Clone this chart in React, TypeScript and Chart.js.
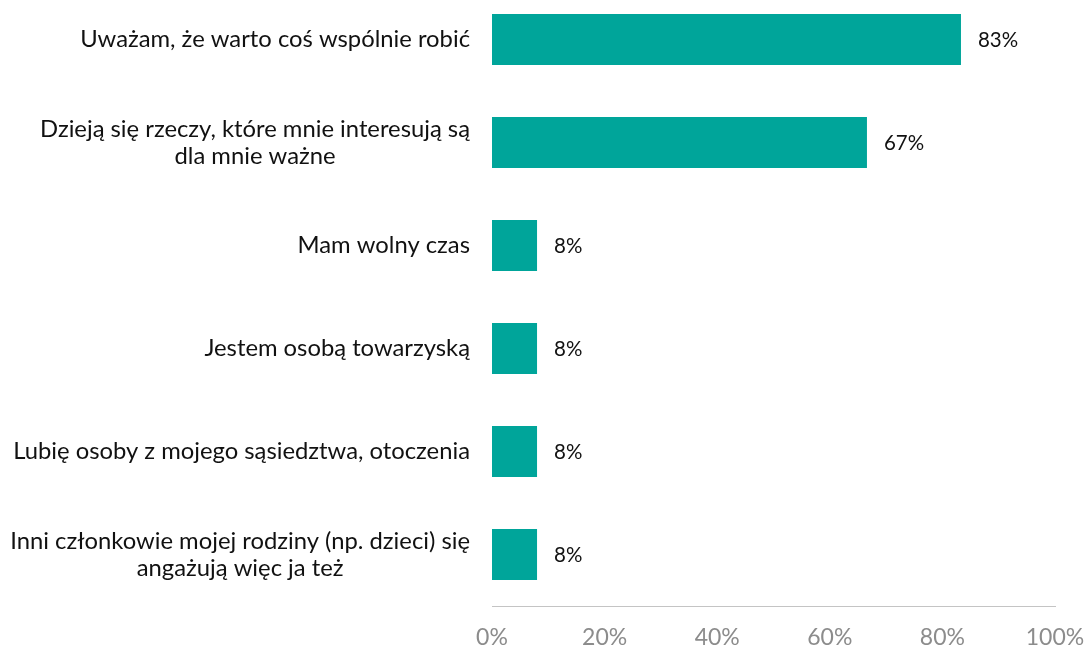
import React, { useEffect, useRef } from "react";
import { Chart, registerables } from "chart.js";

Chart.register(...registerables);

const categories: string[][] = [
  ["Uważam, że warto coś wspólnie robić"],
  ["Dzieją się rzeczy, które mnie interesują są", "dla mnie ważne"],
  ["Mam wolny czas"],
  ["Jestem osobą towarzyską"],
  ["Lubię osoby z mojego sąsiedztwa, otoczenia"],
  ["Inni członkowie mojej rodziny (np. dzieci) się", "angażują więc ja też"],
];
const values: number[] = [83.3, 66.6, 8, 8, 8, 8];
const valueLabels: string[] = ["83%", "67%", "8%", "8%", "8%", "8%"];
const xTicks: number[] = [0, 20, 40, 60, 80, 100];

const W = 1088;
const H = 660;

const labelsPlugin = {
  id: "customLabels",
  afterDatasetsDraw(chart: any) {
    const ctx = chart.ctx;
    const yScale = chart.scales.y;
    const meta = chart.getDatasetMeta(0);
    ctx.save();
    ctx.font = "23.8px Lato";
    ctx.fillStyle = "#111111";
    ctx.textBaseline = "middle";
    const right = 470;
    const lh = 27;
    categories.forEach((lines, i) => {
      const cy = yScale.getPixelForValue(i);
      if (lines.length === 1) {
        ctx.textAlign = "right";
        ctx.fillText(lines[0], right, cy);
      } else {
        const maxW = Math.max(...lines.map((l) => ctx.measureText(l).width));
        const cx = right - maxW / 2;
        ctx.textAlign = "center";
        lines.forEach((l, j) => {
          const y = cy + (j - (lines.length - 1) / 2) * lh;
          ctx.fillText(l, cx, y);
        });
      }
    });
    ctx.font = "20.5px Lato";
    ctx.textAlign = "left";
    meta.data.forEach((bar: any, i: number) => {
      ctx.fillText(valueLabels[i], bar.x + 17, bar.y + 1);
    });
    ctx.restore();
  },
};

export default function App() {
  const ref = useRef<HTMLCanvasElement | null>(null);
  useEffect(() => {
    if (!ref.current) return;
    const chart = new Chart(ref.current, {
      type: "bar",
      data: {
        labels: categories.map((c) => c.join(" ")),
        datasets: [
          {
            data: values,
            backgroundColor: "#00A59A",
            borderWidth: 0,
            categoryPercentage: 1,
            barPercentage: 0.495,
          },
        ],
      },
      options: {
        indexAxis: "y",
        responsive: false,
        animation: false,
        layout: { padding: { top: 0, left: 0, bottom: 0, right: 33 } },
        plugins: {
          legend: { display: false },
          tooltip: { enabled: false },
        },
        scales: {
          x: {
            min: 0,
            max: 100,
            afterBuildTicks: (scale: any) => {
              scale.ticks = xTicks.map((v) => ({ value: v }));
            },
            afterFit: (scale: any) => {
              scale.height = 42;
              scale.paddingRight = 0;
            },
            grid: { display: false },
            border: { display: true, color: "#c4c4c4", width: 1 },
            ticks: {
              padding: 10,
              color: "#8c8c8c",
              font: { family: "Lato", size: 23 },
              callback: (v: any) => v + "%",
              maxRotation: 0,
            },
          },
          y: {
            afterFit: (scale: any) => {
              scale.width = 492;
            },
            grid: { display: false },
            border: { display: false },
            ticks: { display: false },
          },
        },
      },
      plugins: [labelsPlugin],
    });
    return () => chart.destroy();
  }, []);
  return (
    <div
      style={{
        position: "fixed",
        left: 0,
        top: 0,
        width: W,
        height: 648,
        overflow: "hidden",
        background: "#fff",
      }}
    >
      <canvas
        ref={ref}
        width={W}
        height={H}
        style={{ position: "absolute", left: 0, top: -12, width: W, height: H }}
      />
    </div>
  );
}
